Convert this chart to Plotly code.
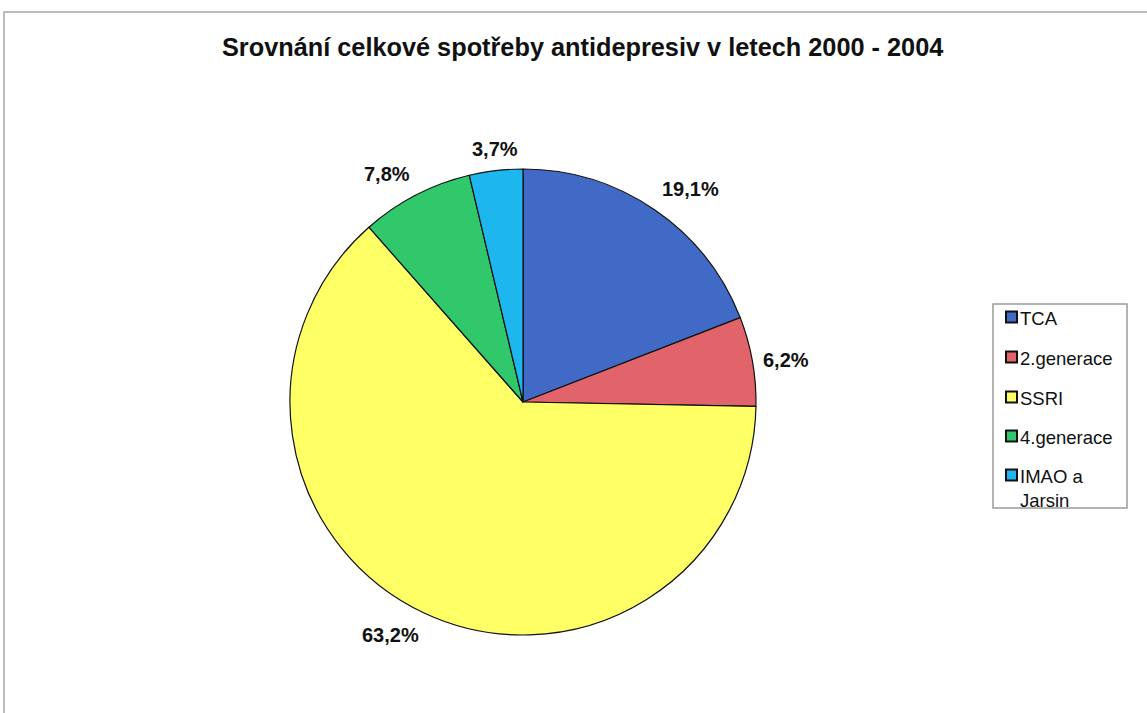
import math
import plotly.graph_objects as go

# Antidepressant consumption shares, 2000-2004
categories = ["TCA", "2.generace", "SSRI", "4.generace", "IMAO a<br>Jarsin"]
shares = [19.1, 6.2, 63.2, 7.8, 3.7]
colors = ["#4169C6", "#E0646A", "#FFFF66", "#30C86A", "#1EB6EE"]
title = "Srovnání celkové spotřeby antidepresiv v letech 2000 - 2004"

W, H = 1147, 713
labels_txt = [f"{v:.1f}".replace(".", ",") + "%" for v in shares]

# pie placement in pixels
cx, cy, r = 523, 402, 233
label_dist = r + 9

fig = go.Figure()
fig.add_trace(go.Pie(
    labels=categories,
    values=shares,
    textinfo="none",
    marker=dict(colors=colors, line=dict(color="#111111", width=1.2)),
    sort=False,
    direction="clockwise",
    rotation=0,
    showlegend=False,
    hoverinfo="label+percent",
    domain=dict(x=[(cx - r) / W, (cx + r) / W], y=[1 - (cy + r) / H, 1 - (cy - r) / H]),
))

shapes = []
annotations = []

# percentage labels anchored just outside each slice at its mid angle
total = sum(shares)
cum = 0.0
for v, t in zip(shares, labels_txt):
    mid = (cum + v / 2) / total * 2 * math.pi
    cum += v
    sn, cs = math.sin(mid), math.cos(mid)
    px = cx + label_dist * sn
    py = cy - label_dist * cs
    xa = "left" if sn > 0.3 else ("right" if sn < -0.3 else "center")
    ya = "bottom" if cs > 0.3 else ("top" if cs < -0.3 else "middle")
    annotations.append(dict(xref="paper", yref="paper", x=px / W, y=1 - py / H,
                            xanchor=xa, yanchor=ya, text=f"<b>{t}</b>",
                            showarrow=False,
                            font=dict(family="Liberation Sans, Arial", size=20, color="#111111")))

# outer chart frame
shapes.append(dict(type="rect", xref="paper", yref="paper",
                   x0=4 / W, x1=1.01, y0=-0.01, y1=1 - 12 / H,
                   line=dict(color="#A8A8A8", width=1.5)))

# legend box
lx0, ly0, lx1, ly1 = 993, 304, 1127, 508
shapes.append(dict(type="rect", xref="paper", yref="paper",
                   x0=lx0 / W, x1=lx1 / W, y0=1 - ly1 / H, y1=1 - ly0 / H,
                   line=dict(color="#9A9A9A", width=1.5)))

row_y = [317, 357, 397, 436, 475]
for name, col, yy in zip(categories, colors, row_y):
    s = 11
    sx = 1006
    shapes.append(dict(type="rect", xref="paper", yref="paper",
                       x0=sx / W, x1=(sx + s) / W,
                       y0=1 - (yy + s / 2) / H, y1=1 - (yy - s / 2) / H,
                       fillcolor=col, line=dict(color="#111111", width=2)))
    annotations.append(dict(xref="paper", yref="paper", x=(sx + s + 1) / W,
                            y=1 - (yy - 11) / H, xanchor="left", yanchor="top",
                            text=name, showarrow=False, align="left",
                            font=dict(family="Liberation Sans, Arial", size=18.5, color="#111111")))

annotations.append(dict(xref="paper", yref="paper", x=583 / W, y=1 - 47 / H,
                        xanchor="center", yanchor="middle", text=f"<b>{title}</b>",
                        showarrow=False,
                        font=dict(family="Liberation Sans, Arial", size=25.3, color="#111111")))

fig.update_layout(
    width=W, height=H,
    margin=dict(l=0, r=0, t=0, b=0),
    paper_bgcolor="white",
    plot_bgcolor="white",
    shapes=shapes,
    annotations=annotations,
)

fig.write_html("out.html", config={"displayModeBar": False})
